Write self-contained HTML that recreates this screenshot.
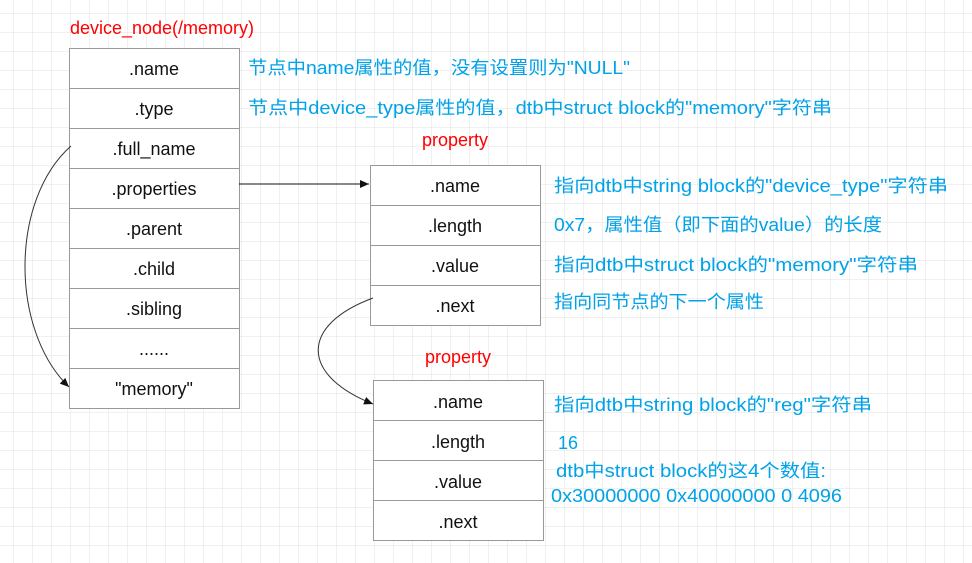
<!DOCTYPE html>
<html><head><meta charset="utf-8"><style>
html,body{margin:0;padding:0;background:#fff}
svg{display:block}
text{font-family:"Liberation Sans","Noto Sans CJK SC",sans-serif;font-size:18px}
.b{fill:#111;text-anchor:middle}
.c{fill:#00a2e8}
.r{fill:#ff0000;text-anchor:middle}
</style></head><body>
<svg width="972" height="563" xmlns="http://www.w3.org/2000/svg">
<defs>
<pattern id="g" x="13" y="13" width="19" height="19" patternUnits="userSpaceOnUse">
<path d="M0 0H19M0 0V19" stroke="#e2e2e2" stroke-width="1" fill="none"/>
</pattern>
<marker id="a" markerWidth="10" markerHeight="10" refX="9" refY="5" orient="auto" markerUnits="userSpaceOnUse">
<path d="M0,1 L9,5 L0,9 Z" fill="#111"/>
</marker>
</defs>
<rect width="972" height="563" fill="url(#g)"/>

<text class="r" x="162" y="34">device_node(/memory)</text>
<g fill="#fff" stroke="#999">
<rect x="69.5" y="48.5" width="170" height="360"/>
</g>
<g stroke="#999">
<line x1="69" y1="88.5" x2="239" y2="88.5"/><line x1="69" y1="128.5" x2="239" y2="128.5"/>
<line x1="69" y1="168.5" x2="239" y2="168.5"/><line x1="69" y1="208.5" x2="239" y2="208.5"/>
<line x1="69" y1="248.5" x2="239" y2="248.5"/><line x1="69" y1="288.5" x2="239" y2="288.5"/>
<line x1="69" y1="328.5" x2="239" y2="328.5"/><line x1="69" y1="368.5" x2="239" y2="368.5"/>
</g>
<text class="b" x="154" y="75">.name</text>
<text class="b" x="154" y="115">.type</text>
<text class="b" x="154" y="155">.full_name</text>
<text class="b" x="154" y="195">.properties</text>
<text class="b" x="154" y="235">.parent</text>
<text class="b" x="154" y="275">.child</text>
<text class="b" x="154" y="315">.sibling</text>
<text class="b" x="154" y="355">......</text>
<text class="b" x="154" y="395">"memory"</text>

<text class="c" x="248" y="74" textLength="382" lengthAdjust="spacingAndGlyphs">节点中name属性的值，没有设置则为"NULL"</text>
<text class="c" x="248" y="114" textLength="584" lengthAdjust="spacingAndGlyphs">节点中device_type属性的值，dtb中struct block的"memory"字符串</text>

<text class="r" x="455" y="146">property</text>
<rect x="370.5" y="165.5" width="170" height="160" fill="#fff" stroke="#999"/>
<g stroke="#999">
<line x1="370" y1="205.5" x2="540" y2="205.5"/><line x1="370" y1="245.5" x2="540" y2="245.5"/><line x1="370" y1="285.5" x2="540" y2="285.5"/>
</g>
<text class="b" x="455" y="192">.name</text>
<text class="b" x="455" y="232">.length</text>
<text class="b" x="455" y="272">.value</text>
<text class="b" x="455" y="312">.next</text>
<text class="c" x="554" y="192" textLength="394" lengthAdjust="spacingAndGlyphs">指向dtb中string block的"device_type"字符串</text>
<text class="c" x="554" y="231" textLength="328" lengthAdjust="spacingAndGlyphs">0x7，属性值（即下面的value）的长度</text>
<text class="c" x="554" y="271" textLength="364" lengthAdjust="spacingAndGlyphs">指向dtb中struct block的"memory"字符串</text>
<text class="c" x="554" y="308" textLength="210" lengthAdjust="spacingAndGlyphs">指向同节点的下一个属性</text>

<text class="r" x="458" y="363">property</text>
<rect x="373.5" y="380.5" width="170" height="160" fill="#fff" stroke="#999"/>
<g stroke="#999">
<line x1="373" y1="420.5" x2="543" y2="420.5"/><line x1="373" y1="460.5" x2="543" y2="460.5"/><line x1="373" y1="500.5" x2="543" y2="500.5"/>
</g>
<text class="b" x="458" y="408">.name</text>
<text class="b" x="458" y="448">.length</text>
<text class="b" x="458" y="488">.value</text>
<text class="b" x="458" y="528">.next</text>
<text class="c" x="554" y="411" textLength="318" lengthAdjust="spacingAndGlyphs">指向dtb中string block的"reg"字符串</text>
<text class="c" x="558" y="449">16</text>
<text class="c" x="556" y="477" textLength="270" lengthAdjust="spacingAndGlyphs">dtb中struct block的这4个数值:</text>
<text class="c" x="551" y="502" textLength="291" lengthAdjust="spacingAndGlyphs">0x30000000 0x40000000 0 4096</text>

<line x1="239" y1="184" x2="369" y2="184" stroke="#111" stroke-width="1" marker-end="url(#a)"/>
<path d="M71,146 C10,200 10,330 69,387" fill="none" stroke="#333" stroke-width="1" marker-end="url(#a)"/>
<path d="M373,298 C300,325 300,375 373,404" fill="none" stroke="#333" stroke-width="1" marker-end="url(#a)"/>
</svg>
</body></html>
